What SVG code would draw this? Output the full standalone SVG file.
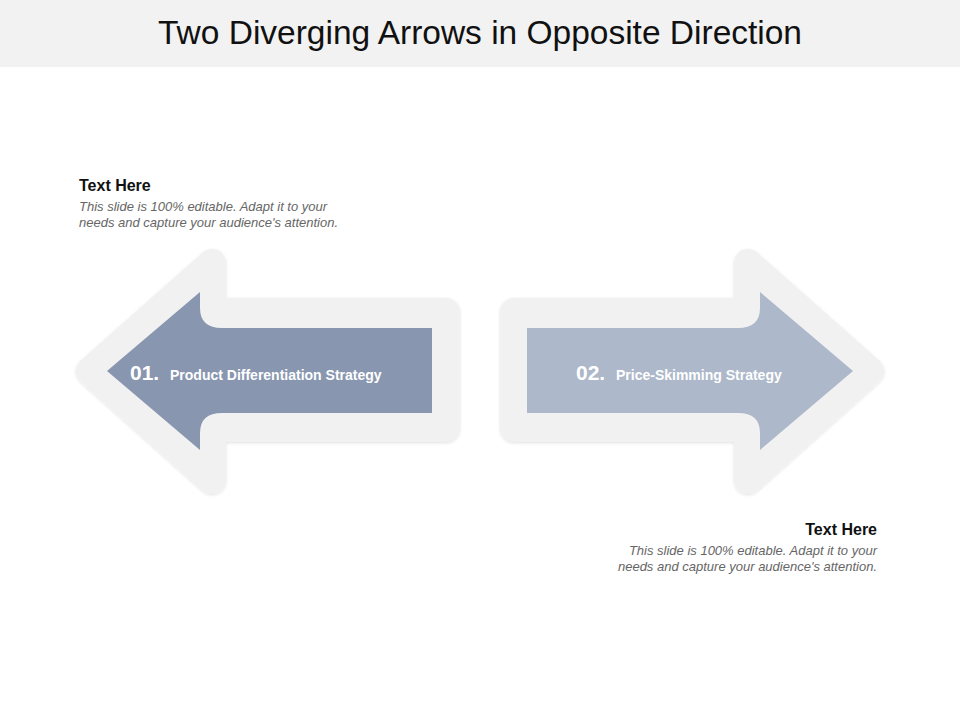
<svg xmlns="http://www.w3.org/2000/svg" width="960" height="720" viewBox="0 0 960 720">
<style>
.t{font-family:"Liberation Sans",Arial,sans-serif}
.h{font-size:16px;font-weight:bold;fill:#111}
.b{font-size:13px;font-style:italic;fill:#666}
.n{font-size:21px;font-weight:bold;fill:#fff}
.l{font-size:14px;font-weight:bold;fill:#fff}
.o{fill:#f1f1f1;stroke:#f1f1f1;stroke-width:28;stroke-linejoin:round}
</style>
<defs><filter id="s" x="-10%" y="-10%" width="120%" height="120%"><feDropShadow dx="0" dy="1" stdDeviation="1.5" flood-color="#000" flood-opacity="0.12"/></filter></defs>
<rect width="960" height="720" fill="#fff"/>
<rect width="960" height="67" fill="#f2f2f2"/>
<text class="t" x="480" y="44" text-anchor="middle" font-size="34" fill="#111" textLength="644" lengthAdjust="spacingAndGlyphs">Two Diverging Arrows in Opposite Direction</text>
<g id="node1">
<polygon class="o" filter="url(#s)" points="90,371 212,263 212,312 446,312 446,428 212,428 212,480"/>
<path d="M107,371 L200,292 L200,308 Q200,328 222,328 L432,328 L432,413 L222,413 Q200,413 200,433 L200,450 Z" fill="#8896b0"/>
<text class="t n" x="130" y="380">01.</text>
<text class="t l" x="170" y="380">Product Differentiation  Strategy</text>
</g>
<g id="node2">
<polygon class="o" filter="url(#s)" points="870,371 748,263 748,312 514,312 514,428 748,428 748,480"/>
<path d="M853,371 L760,292 L760,308 Q760,328 738,328 L527,328 L527,413 L738,413 Q760,413 760,433 L760,450 Z" fill="#adb8ca"/>
<text class="t n" x="576" y="380">02.</text>
<text class="t l" x="616" y="380">Price-Skimming Strategy</text>
</g>
<g id="text1">
<text class="t h" x="79" y="191">Text Here</text>
<text class="t b" x="79" y="211">This slide is 100% editable. Adapt it to your</text>
<text class="t b" x="79" y="227">needs and capture your audience's attention.</text>
</g>
<g id="text2" text-anchor="end">
<text class="t h" x="877" y="535">Text Here</text>
<text class="t b" x="877" y="555">This slide is 100% editable. Adapt it to your</text>
<text class="t b" x="877" y="571">needs and capture your audience's attention.</text>
</g>
<g id="connectors"/>
</svg>
